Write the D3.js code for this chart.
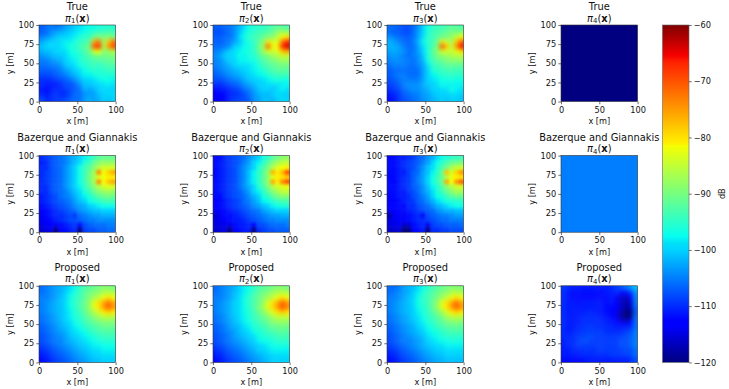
<!DOCTYPE html>
<html><head><meta charset="utf-8">
<script src="https://cdn.jsdelivr.net/npm/d3@7"></script>
<style>html,body{margin:0;padding:0;background:#fff}svg{display:block}text{font-family:"DejaVu Sans",sans-serif;fill:#111}</style>
</head><body><div id="chart"></div>
<script>
// Received power [dB]; rows run from y=100 down to y=0, columns from x=0 to x=100.
const trueP1 = [
[-107,-106,-105,-106,-105,-103,-102,-100,-99,-98,-97,-97,-96,-96,-95,-96],
[-107,-106,-104,-103,-102,-101,-100,-99,-98,-97,-96,-95,-94,-94,-93,-94],
[-105,-104,-103,-101,-100,-100,-99,-98,-96,-95,-94,-91,-89,-90,-89,-90],
[-103,-101,-100,-100,-99,-98,-98,-96,-95,-94,-92,-76,-72,-88,-78,-72],
[-101,-100,-99,-100,-99,-98,-96,-96,-94,-92,-90,-70,-67,-87,-75,-69],
[-102,-101,-101,-100,-99,-99,-97,-96,-95,-93,-91,-84,-82,-89,-88,-86],
[-104,-103,-102,-101,-101,-100,-98,-97,-96,-94,-93,-91,-90,-91,-90,-90],
[-105,-105,-104,-103,-102,-100,-99,-98,-96,-95,-94,-93,-93,-92,-92,-91],
[-106,-106,-105,-105,-104,-101,-100,-99,-97,-96,-95,-94,-95,-94,-93,-93],
[-107,-107,-107,-106,-105,-103,-102,-100,-99,-97,-96,-95,-96,-95,-94,-95],
[-108,-108,-108,-107,-106,-105,-103,-102,-100,-98,-98,-97,-96,-96,-96,-96],
[-110,-110,-110,-109,-108,-107,-106,-104,-102,-100,-100,-99,-98,-97,-97,-98],
[-110,-111,-111,-111,-110,-108,-108,-107,-104,-101,-101,-100,-100,-99,-98,-99],
[-111,-112,-111,-110,-110,-109,-108,-107,-106,-102,-103,-102,-100,-99,-100,-100],
[-110,-111,-110,-109,-110,-110,-108,-106,-106,-104,-103,-103,-101,-100,-99,-99],
[-108,-110,-110,-109,-109,-108,-107,-106,-106,-103,-102,-103,-102,-100,-101,-100]];
const trueP2 = [
[-107,-107,-106,-106,-104,-102,-99,-97,-96,-95,-95,-94,-93,-92,-92,-93],
[-108,-108,-107,-106,-104,-101,-98,-96,-95,-94,-93,-92,-91,-88,-87,-88],
[-107,-107,-106,-106,-104,-100,-97,-95,-94,-93,-91,-90,-89,-85,-82,-80],
[-107,-107,-106,-105,-103,-101,-98,-96,-95,-92,-89,-80,-84,-83,-72,-67],
[-106,-106,-105,-104,-100,-99,-97,-97,-95,-91,-87,-71,-82,-81,-67,-64],
[-105,-104,-102,-100,-99,-98,-97,-96,-95,-92,-88,-83,-85,-83,-78,-76],
[-104,-103,-100,-100,-99,-97,-98,-96,-96,-93,-91,-90,-88,-86,-85,-85],
[-105,-104,-102,-100,-100,-98,-98,-97,-97,-95,-93,-91,-90,-89,-88,-88],
[-105,-104,-103,-102,-100,-99,-99,-99,-98,-96,-94,-93,-92,-91,-90,-91],
[-106,-105,-104,-103,-102,-101,-100,-99,-98,-97,-96,-94,-93,-92,-92,-92],
[-107,-106,-105,-104,-103,-102,-101,-100,-99,-98,-97,-96,-95,-94,-94,-94],
[-108,-108,-107,-106,-105,-104,-102,-101,-100,-100,-99,-98,-97,-96,-97,-97],
[-110,-110,-109,-108,-107,-106,-104,-103,-102,-100,-100,-99,-99,-99,-98,-98],
[-112,-111,-111,-110,-109,-108,-106,-105,-103,-101,-100,-100,-101,-99,-98,-99],
[-113,-113,-112,-110,-110,-109,-108,-106,-104,-102,-101,-102,-100,-99,-100,-100],
[-114,-113,-112,-110,-109,-108,-108,-107,-104,-103,-101,-101,-102,-100,-99,-100]];
const trueP3 = [
[-106,-106,-107,-108,-108,-106,-104,-100,-97,-95,-94,-94,-93,-92,-92,-93],
[-106,-107,-107,-108,-108,-106,-103,-100,-96,-94,-93,-92,-91,-90,-90,-89],
[-104,-105,-106,-107,-107,-106,-103,-99,-95,-94,-92,-91,-90,-88,-85,-82],
[-102,-103,-105,-106,-107,-105,-102,-98,-95,-94,-91,-80,-85,-87,-78,-71],
[-102,-102,-103,-105,-106,-106,-103,-99,-96,-93,-89,-70,-78,-85,-75,-66],
[-103,-102,-103,-104,-106,-105,-103,-100,-96,-92,-89,-84,-84,-85,-83,-80],
[-104,-103,-104,-105,-106,-105,-104,-101,-96,-93,-90,-89,-88,-87,-86,-86],
[-105,-104,-104,-105,-105,-106,-104,-102,-97,-94,-92,-91,-90,-89,-89,-89],
[-106,-105,-105,-105,-106,-106,-105,-103,-99,-95,-94,-93,-92,-92,-92,-92],
[-107,-106,-106,-106,-106,-106,-106,-103,-100,-96,-95,-94,-94,-93,-94,-94],
[-107,-106,-105,-105,-106,-106,-106,-103,-100,-98,-97,-95,-95,-95,-95,-95],
[-108,-107,-106,-105,-105,-105,-105,-103,-100,-99,-98,-97,-97,-96,-97,-97],
[-109,-108,-107,-105,-104,-104,-104,-102,-101,-100,-99,-97,-98,-98,-98,-98],
[-110,-109,-108,-106,-105,-104,-104,-103,-102,-100,-100,-99,-99,-97,-98,-99],
[-111,-110,-109,-107,-106,-105,-105,-103,-103,-101,-100,-100,-100,-99,-99,-100],
[-112,-111,-109,-108,-107,-106,-105,-104,-103,-102,-101,-100,-101,-100,-100,-101]];
const trueP4 = [[-120]];
const bazP1 = [
[-110,-109,-108,-107,-106,-105,-103,-102,-100,-98,-96,-94,-92,-91,-91,-91],
[-111,-110,-108,-107,-106,-105,-103,-101,-99,-96,-94,-91,-89,-88,-88,-88],
[-110,-110,-108,-107,-106,-104,-102,-100,-97,-94,-92,-89,-86,-84,-84,-84],
[-110,-109,-108,-107,-106,-104,-102,-100,-97,-94,-91,-87,-74,-82,-79,-76],
[-110,-109,-108,-107,-106,-104,-102,-100,-97,-94,-90,-87,-83,-82,-81,-81],
[-110,-109,-108,-107,-106,-104,-102,-100,-97,-94,-91,-87,-74,-82,-78,-76],
[-110,-110,-108,-107,-106,-104,-102,-100,-98,-95,-92,-89,-86,-84,-83,-84],
[-110,-110,-108,-107,-106,-105,-103,-101,-99,-96,-94,-91,-89,-88,-87,-88],
[-111,-110,-109,-108,-106,-105,-104,-102,-100,-98,-96,-94,-92,-91,-90,-91],
[-111,-110,-109,-108,-107,-106,-105,-103,-101,-100,-97,-96,-95,-94,-93,-94],
[-112,-111,-110,-109,-108,-107,-106,-104,-103,-102,-100,-99,-98,-97,-97,-97],
[-113,-112,-111,-110,-109,-108,-107,-106,-104,-103,-102,-101,-101,-100,-100,-100],
[-114,-112,-111,-110,-110,-109,-108,-109,-106,-105,-104,-103,-103,-102,-102,-102],
[-114,-113,-112,-111,-110,-109,-108,-108,-107,-106,-105,-105,-104,-104,-104,-104],
[-115,-114,-113,-114,-112,-111,-110,-109,-112,-108,-107,-106,-106,-106,-105,-105],
[-116,-115,-114,-120,-113,-112,-111,-110,-120,-109,-108,-108,-107,-107,-106,-106]];
const bazP2 = [
[-112,-112,-110,-109,-108,-107,-106,-104,-102,-100,-96,-95,-92,-90,-89,-88],
[-112,-111,-110,-109,-108,-107,-105,-103,-100,-98,-95,-92,-89,-87,-85,-85],
[-112,-111,-110,-109,-108,-106,-104,-102,-100,-96,-93,-90,-86,-83,-82,-81],
[-112,-111,-110,-109,-108,-106,-104,-101,-98,-95,-92,-88,-77,-81,-77,-70],
[-112,-111,-110,-109,-108,-106,-104,-101,-98,-95,-92,-88,-83,-81,-80,-78],
[-112,-111,-110,-109,-108,-106,-104,-101,-98,-95,-92,-88,-76,-81,-74,-70],
[-112,-111,-110,-109,-108,-106,-104,-102,-100,-96,-93,-90,-86,-84,-83,-82],
[-112,-111,-110,-109,-108,-107,-105,-103,-100,-98,-95,-92,-89,-87,-85,-85],
[-112,-112,-110,-109,-108,-107,-106,-104,-102,-100,-96,-95,-92,-90,-89,-89],
[-113,-112,-111,-110,-109,-108,-106,-105,-103,-101,-98,-97,-95,-94,-93,-93],
[-113,-112,-111,-110,-109,-108,-107,-106,-104,-103,-101,-100,-98,-97,-96,-96],
[-114,-113,-112,-111,-110,-109,-108,-107,-106,-105,-103,-102,-101,-100,-100,-100],
[-116,-113,-112,-112,-111,-110,-109,-108,-107,-106,-105,-104,-103,-103,-102,-102],
[-115,-114,-113,-112,-111,-111,-110,-109,-108,-107,-106,-105,-105,-104,-104,-104],
[-115,-115,-114,-115,-112,-111,-111,-110,-113,-108,-108,-107,-106,-106,-106,-105],
[-116,-115,-115,-120,-113,-112,-111,-111,-120,-110,-109,-108,-108,-107,-107,-107]];
const bazP3 = [
[-113,-112,-111,-111,-110,-109,-107,-106,-104,-102,-99,-97,-96,-95,-94,-94],
[-112,-112,-111,-110,-109,-108,-107,-105,-103,-100,-97,-95,-93,-91,-90,-90],
[-112,-112,-111,-110,-109,-108,-106,-104,-101,-99,-96,-93,-90,-87,-85,-84],
[-112,-112,-111,-111,-109,-107,-106,-103,-101,-98,-95,-91,-78,-84,-79,-75],
[-113,-112,-111,-110,-109,-107,-105,-103,-100,-97,-94,-91,-86,-82,-81,-80],
[-112,-113,-111,-110,-109,-107,-105,-103,-100,-97,-94,-91,-76,-82,-75,-71],
[-112,-112,-111,-110,-109,-107,-106,-104,-101,-98,-96,-92,-89,-86,-84,-84],
[-112,-112,-111,-111,-109,-108,-106,-104,-102,-99,-96,-94,-91,-89,-87,-87],
[-113,-112,-111,-111,-110,-108,-107,-105,-103,-100,-97,-96,-94,-92,-91,-91],
[-113,-113,-112,-111,-110,-109,-107,-106,-104,-102,-99,-98,-96,-96,-95,-95],
[-113,-113,-112,-113,-110,-110,-108,-107,-106,-104,-102,-101,-99,-98,-97,-97],
[-114,-113,-113,-112,-111,-110,-109,-108,-107,-106,-104,-103,-102,-102,-101,-101],
[-118,-114,-113,-114,-112,-111,-110,-112,-108,-107,-106,-105,-105,-104,-103,-103],
[-115,-114,-114,-113,-112,-111,-110,-110,-109,-108,-107,-106,-106,-105,-105,-105],
[-115,-115,-114,-116,-116,-112,-111,-110,-114,-109,-108,-108,-107,-107,-107,-106],
[-116,-116,-115,-120,-120,-113,-112,-111,-120,-110,-110,-109,-109,-108,-108,-108]];
const bazP4 = [[-105]];
const propP1 = [
[-106,-105,-104,-103,-102,-101,-99,-97,-95,-93,-92,-91,-90,-89,-89,-90],
[-106,-105,-104,-103,-102,-100,-98,-96,-94,-92,-90,-89,-88,-86,-85,-86],
[-105,-105,-104,-103,-101,-100,-97,-95,-94,-92,-89,-87,-85,-82,-80,-82],
[-105,-104,-103,-102,-101,-99,-97,-95,-93,-91,-88,-83,-80,-76,-72,-76],
[-105,-104,-103,-102,-101,-99,-97,-95,-93,-91,-88,-83,-80,-75,-71,-75],
[-105,-104,-103,-102,-101,-100,-98,-96,-94,-92,-89,-86,-84,-81,-79,-81],
[-106,-105,-104,-103,-101,-100,-98,-96,-95,-93,-91,-89,-87,-86,-85,-86],
[-106,-105,-104,-103,-102,-100,-99,-97,-96,-94,-92,-91,-90,-89,-89,-89],
[-107,-106,-105,-104,-102,-101,-100,-98,-97,-95,-94,-93,-92,-91,-91,-91],
[-107,-106,-105,-104,-103,-102,-100,-99,-98,-97,-95,-94,-93,-93,-92,-93],
[-108,-107,-106,-105,-104,-103,-101,-100,-99,-98,-97,-96,-95,-94,-94,-94],
[-108,-107,-106,-105,-105,-103,-102,-101,-100,-99,-98,-97,-96,-96,-95,-96],
[-109,-108,-107,-106,-105,-104,-103,-102,-101,-100,-99,-98,-98,-97,-97,-97],
[-110,-109,-108,-107,-106,-105,-104,-103,-102,-101,-100,-99,-99,-98,-98,-98],
[-111,-110,-109,-108,-107,-106,-105,-104,-103,-102,-101,-100,-100,-99,-99,-99],
[-112,-111,-110,-109,-108,-107,-106,-105,-104,-103,-102,-101,-101,-100,-100,-100]];
const propP2 = [
[-106,-105,-104,-103,-102,-100,-98,-97,-95,-93,-92,-91,-90,-89,-89,-90],
[-106,-105,-104,-103,-101,-100,-98,-96,-94,-92,-90,-89,-87,-86,-85,-86],
[-105,-105,-104,-103,-101,-99,-97,-95,-93,-91,-89,-87,-85,-82,-80,-82],
[-105,-104,-103,-102,-100,-99,-97,-95,-93,-91,-88,-83,-80,-76,-71,-75],
[-105,-104,-103,-102,-100,-99,-97,-95,-93,-90,-87,-83,-79,-75,-70,-74],
[-105,-104,-103,-102,-100,-99,-97,-96,-94,-91,-89,-86,-83,-80,-78,-80],
[-106,-105,-104,-102,-101,-99,-98,-96,-94,-93,-91,-89,-87,-85,-85,-85],
[-106,-105,-104,-103,-101,-100,-98,-97,-95,-94,-92,-91,-89,-88,-88,-88],
[-107,-106,-105,-103,-102,-101,-99,-98,-96,-95,-94,-92,-91,-91,-90,-91],
[-107,-106,-105,-104,-103,-101,-100,-99,-97,-96,-95,-94,-93,-92,-92,-92],
[-108,-107,-106,-105,-103,-102,-101,-100,-99,-97,-96,-95,-95,-94,-93,-94],
[-108,-107,-106,-105,-104,-103,-102,-101,-100,-98,-97,-97,-96,-95,-95,-95],
[-109,-108,-107,-106,-105,-104,-103,-102,-101,-100,-99,-98,-97,-97,-96,-97],
[-110,-109,-108,-107,-106,-105,-104,-103,-102,-100,-100,-99,-98,-98,-98,-98],
[-111,-110,-109,-108,-107,-106,-105,-104,-103,-102,-101,-100,-100,-99,-99,-99],
[-112,-111,-110,-109,-108,-107,-106,-105,-104,-103,-102,-101,-100,-100,-100,-100]];
const propP3 = [
[-106,-106,-105,-103,-102,-101,-99,-97,-95,-94,-92,-91,-90,-89,-89,-90],
[-106,-105,-104,-103,-102,-100,-98,-96,-94,-92,-91,-89,-88,-86,-85,-86],
[-105,-105,-104,-103,-101,-100,-97,-95,-94,-92,-90,-87,-85,-82,-80,-82],
[-105,-104,-103,-102,-101,-99,-97,-95,-94,-91,-88,-83,-80,-76,-72,-76],
[-105,-104,-103,-102,-101,-100,-97,-96,-94,-91,-88,-83,-80,-75,-71,-75],
[-105,-104,-103,-102,-101,-100,-98,-96,-95,-92,-90,-87,-84,-81,-79,-81],
[-106,-105,-104,-103,-102,-100,-99,-97,-95,-94,-92,-90,-87,-86,-85,-86],
[-106,-105,-104,-103,-102,-101,-99,-98,-96,-95,-93,-92,-90,-89,-89,-89],
[-107,-106,-105,-104,-103,-102,-100,-99,-97,-96,-94,-93,-92,-92,-91,-92],
[-107,-106,-105,-104,-103,-102,-101,-100,-98,-97,-96,-95,-94,-93,-93,-93],
[-108,-107,-106,-105,-104,-103,-102,-101,-99,-98,-97,-96,-95,-95,-95,-95],
[-108,-107,-106,-105,-105,-104,-103,-102,-100,-99,-98,-97,-97,-96,-96,-97],
[-109,-108,-107,-106,-105,-104,-103,-102,-101,-100,-99,-99,-98,-98,-98,-98],
[-110,-109,-108,-107,-106,-105,-104,-103,-102,-101,-100,-100,-99,-99,-99,-99],
[-111,-110,-109,-108,-107,-106,-105,-104,-103,-102,-101,-101,-100,-100,-100,-100],
[-112,-111,-110,-109,-108,-107,-106,-105,-104,-103,-102,-102,-101,-101,-101,-101]];
const propP4 = [
[-109,-110,-111,-111,-111,-111,-111,-111,-111,-111,-110,-109,-108,-106,-104,-101],
[-110,-111,-112,-112,-112,-112,-112,-112,-112,-111,-111,-110,-112,-113,-110,-104],
[-110,-111,-112,-112,-112,-112,-112,-112,-112,-112,-111,-113,-116,-117,-114,-105],
[-110,-111,-111,-112,-111,-111,-111,-111,-111,-112,-111,-113,-116,-118,-116,-105],
[-110,-111,-111,-111,-111,-111,-111,-111,-111,-112,-112,-113,-116,-118,-117,-106],
[-110,-111,-111,-111,-111,-110,-110,-111,-111,-112,-113,-114,-117,-120,-120,-107],
[-110,-111,-111,-111,-110,-110,-110,-110,-111,-111,-112,-114,-118,-120,-120,-106],
[-110,-111,-111,-111,-110,-110,-110,-110,-110,-111,-111,-112,-114,-116,-112,-106],
[-110,-111,-111,-110,-110,-109,-109,-110,-110,-110,-110,-111,-111,-111,-110,-106],
[-110,-111,-110,-110,-109,-109,-109,-109,-109,-110,-110,-110,-110,-109,-108,-105],
[-110,-110,-110,-109,-109,-108,-108,-109,-109,-109,-109,-109,-109,-108,-107,-105],
[-111,-110,-110,-109,-108,-108,-109,-109,-109,-109,-109,-109,-108,-108,-107,-105],
[-111,-110,-110,-109,-109,-109,-109,-109,-109,-109,-109,-109,-108,-108,-107,-105],
[-111,-111,-110,-110,-110,-109,-110,-109,-109,-109,-109,-109,-109,-108,-108,-106],
[-111,-111,-111,-111,-110,-110,-110,-110,-110,-110,-109,-109,-109,-109,-108,-106],
[-112,-112,-112,-112,-112,-111,-111,-111,-111,-111,-111,-111,-111,-111,-110,-108]];

const rowTitles = ["True", "Bazerque and Giannakis", "Proposed"];
const subscripts = ["1", "2", "3", "4"];
const grids = [
  [trueP1, trueP2, trueP3, trueP4],
  [bazP1, bazP2, bazP3, bazP4],
  [propP1, propP2, propP3, propP4]
];
const xTicks = [0, 50, 100];
const yTicks = [0, 25, 50, 75, 100];
const colorbarTicks = [-60, -70, -80, -90, -100, -110, -120];
const jetStops = [0, .11, .125, .34, .35, .375, .64, .65, .66, .89, .91, 1];
const jetColors = ["#000080","#0000ff","#0000ff","#00d9ff","#00ddfa","#06ffef","#f4ff03","#ffee00","#ffe800","#ff2100","#f60000","#800000"];

const W = 729, H = 389, colX = [39, 213, 387, 561], rowY = [25, 155.6, 285.8], SIZE = 76.6;
const fontT = 9.9, fontA = 8.2, INK = "#111";
const rowBlur = [1.9, 1.65, 1.9];

const color = d3.scaleLinear().domain(jetStops.map(t => -120 + 60 * t)).range(jetColors).clamp(true);

const svg = d3.select("#chart").append("svg").attr("width", W).attr("height", H).attr("viewBox", `0 0 ${W} ${H}`);
const defs = svg.append("defs");
rowBlur.forEach((s, r) => defs.append("filter").attr("id", `soft${r}`).attr("filterUnits", "userSpaceOnUse")
  .attr("x", -20).attr("y", -20).attr("width", 120).attr("height", 120)
  .attr("color-interpolation-filters", "sRGB")
  .append("feGaussianBlur").attr("stdDeviation", s));

function styleAxis(g) {
  g.selectAll("path.domain").remove();
  g.selectAll("line").attr("stroke", INK).attr("stroke-width", 0.6);
  g.selectAll("text").attr("font-size", fontA).attr("fill", INK).style("font-family", '"DejaVu Sans",sans-serif');
}

grids.forEach((row, r) => row.forEach((grid, c) => {
  const left = colX[c], top = rowY[r], id = `clip${r}${c}`;
  const g = svg.append("g").attr("transform", `translate(${left},${top})`);
  const xS = d3.scaleLinear().domain([0, 100]).range([0, SIZE]);
  const yS = d3.scaleLinear().domain([0, 100]).range([SIZE, 0]);
  const n = grid.length;
  const cx = d3.scaleBand().domain(d3.range(n)).range([0, SIZE]);
  const cy = d3.scaleBand().domain(d3.range(n)).range([0, SIZE]);

  defs.append("clipPath").attr("id", id).append("rect").attr("width", SIZE).attr("height", SIZE);
  const cells = g.append("g").attr("clip-path", `url(#${id})`).append("g").attr("filter", `url(#soft${r})`);
  const margin = 10;
  const lo = (scale, i) => i === 0 ? -margin : scale(i);
  const hi = (scale, i) => i === n - 1 ? SIZE + margin : scale(i) + scale.bandwidth() + 0.4;
  grid.forEach((vals, j) => {
    cells.selectAll(null).data(vals).join("rect")
      .attr("x", (d, i) => lo(cx, i))
      .attr("y", lo(cy, j))
      .attr("width", (d, i) => hi(cx, i) - lo(cx, i))
      .attr("height", hi(cy, j) - lo(cy, j))
      .attr("fill", d => color(d));
  });

  g.append("rect").attr("width", SIZE).attr("height", SIZE).attr("fill", "none").attr("stroke", "#333").attr("stroke-width", 0.6);
  g.append("g").attr("transform", `translate(0,${SIZE})`).call(d3.axisBottom(xS).tickValues(xTicks).tickSize(2.7).tickPadding(2.6)).call(styleAxis);
  g.append("g").call(d3.axisLeft(yS).tickValues(yTicks).tickSize(2.7).tickPadding(2.2)).call(styleAxis);

  g.append("text").attr("x", SIZE / 2).attr("y", SIZE + 22.5).attr("text-anchor", "middle").attr("font-size", fontA).text("x [m]");
  g.append("text").attr("transform", `translate(-26,${SIZE / 2}) rotate(-90)`).attr("text-anchor", "middle").attr("font-size", fontA).text("y [m]");

  g.append("text").attr("x", SIZE / 2).attr("y", -15).attr("text-anchor", "middle").attr("font-size", fontT).text(rowTitles[r]);
  const m = g.append("text").attr("x", SIZE / 2).attr("y", -3.5).attr("text-anchor", "middle").attr("font-size", fontT);
  m.append("tspan").attr("font-style", "italic").text("π");
  m.append("tspan").attr("font-size", fontT * 0.7).attr("dy", 1.5).text(subscripts[c]);
  m.append("tspan").attr("dy", -1.5).text("(");
  m.append("tspan").attr("font-weight", "bold").text("x");
  m.append("tspan").text(")");
}));

// Colour bar
const cbX = 662.5, cbW = 26.5, cbTop = rowY[0], cbBottom = rowY[2] + SIZE;
const cb = d3.scaleLinear().domain([-120, -60]).range([cbBottom, cbTop]);
const grad = defs.append("linearGradient").attr("id", "jet").attr("x1", 0).attr("x2", 0).attr("y1", 1).attr("y2", 0);
jetStops.forEach((t, i) => grad.append("stop").attr("offset", t).attr("stop-color", jetColors[i]));
svg.append("rect").attr("x", cbX).attr("y", cbTop).attr("width", cbW).attr("height", cbBottom - cbTop)
  .attr("fill", "url(#jet)").attr("stroke", "#666").attr("stroke-width", 0.6);
svg.append("g").attr("transform", `translate(${cbX + cbW},0)`)
  .call(d3.axisRight(cb).tickValues(colorbarTicks).tickFormat(d => "\u2212" + Math.abs(d)).tickSize(2.7).tickPadding(2))
  .call(styleAxis);
svg.append("text").attr("transform", `translate(725,${(cbTop + cbBottom) / 2}) rotate(-90)`)
  .attr("text-anchor", "middle").attr("font-size", fontA).text("dB");
</script></body></html>
